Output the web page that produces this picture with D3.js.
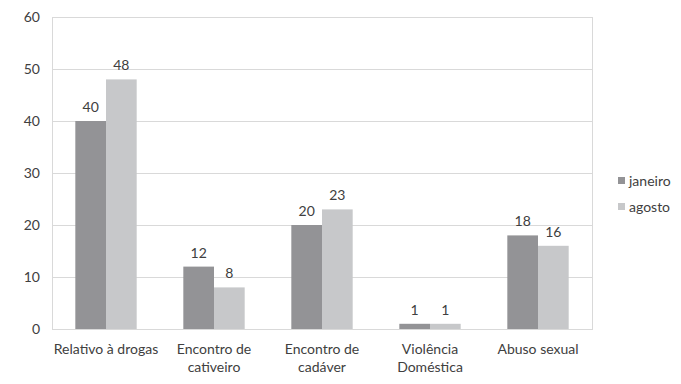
<!DOCTYPE html>
<html>
<head>
<meta charset="utf-8">
<script src="https://cdn.jsdelivr.net/npm/d3@7"></script>
<style>
  body { margin: 0; background: #fff; }
  text { font-family: Lato, "Open Sans", sans-serif; fill: #404040; }
</style>
</head>
<body>
<div id="chart"></div>
<script>
// data
var categories = [["Relativo à drogas"], ["Encontro de", "cativeiro"], ["Encontro de", "cadáver"], ["Violência", "Doméstica"], ["Abuso sexual"]];
var series = ["janeiro", "agosto"];
var janeiro = [40, 12, 20, 1, 18];
var agosto = [48, 8, 23, 1, 16];
var yTicks = [0, 10, 20, 30, 40, 50, 60];
var colors = ["#939396", "#c7c8ca"];

var w = 681, h = 384;
var plotLeft = 52, plotRight = 592, plotTop = 17, plotBottom = 329;
var fs = "14px";

var svg = d3.select("#chart").append("svg")
  .attr("width", w)
  .attr("height", h);

var x = d3.scaleBand()
  .domain(d3.range(categories.length))
  .range([plotLeft, plotRight]);

var xs = d3.scaleBand()
  .domain(series)
  .range([0, x.bandwidth()])
  .paddingOuter(0.76)
  .paddingInner(0);

var y = d3.scaleLinear()
  .domain([0, 60])
  .range([plotBottom, plotTop]);

// gridlines
svg.selectAll("line.grid")
  .data(yTicks)
  .enter()
  .append("line")
  .attr("x1", plotLeft)
  .attr("x2", plotRight)
  .attr("y1", function(d) { return Math.round(y(d)) + 0.5; })
  .attr("y2", function(d) { return Math.round(y(d)) + 0.5; })
  .style("stroke", "#d9d9d9")
  .style("stroke-width", 1);

// plot border (left and right)
[plotLeft, plotRight].forEach(function(px) {
  svg.append("line")
    .attr("x1", px + 0.5).attr("x2", px + 0.5)
    .attr("y1", plotTop).attr("y2", plotBottom + 1)
    .style("stroke", "#d9d9d9");
});

// y tick labels
svg.selectAll("text.ytick")
  .data(yTicks)
  .enter()
  .append("text")
  .text(function(d) { return d; })
  .attr("x", 40)
  .attr("y", function(d) { return y(d) + 5; })
  .style("text-anchor", "end")
  .style("font-size", fs);

var values = [janeiro, agosto];

series.forEach(function(s, si) {
  var g = svg.append("g");
  g.selectAll("rect")
    .data(values[si])
    .enter()
    .append("rect")
    .attr("x", function(d, i) { return x(i) + xs(s); })
    .attr("y", function(d) { return y(d); })
    .attr("width", xs.bandwidth())
    .attr("height", function(d) { return y(0) - y(d); })
    .style("fill", colors[si]);

  g.selectAll("text")
    .data(values[si])
    .enter()
    .append("text")
    .text(function(d) { return d; })
    .attr("x", function(d, i) { return x(i) + xs(s) + xs.bandwidth() / 2; })
    .attr("y", function(d) { return y(d) - 9; })
    .style("text-anchor", "middle")
    .style("font-size", fs);
});

// category labels
categories.forEach(function(lines, i) {
  var t = svg.append("text")
    .attr("x", x(i) + x.bandwidth() / 2)
    .attr("y", 354)
    .style("text-anchor", "middle")
    .style("font-size", fs);
  lines.forEach(function(l, li) {
    t.append("tspan")
      .attr("x", x(i) + x.bandwidth() / 2)
      .attr("dy", li === 0 ? 0 : 18)
      .text(l);
  });
});

// legend
series.forEach(function(s, si) {
  svg.append("rect")
    .attr("x", 618)
    .attr("y", 177 + si * 26)
    .attr("width", 7)
    .attr("height", 7)
    .style("fill", colors[si]);
  svg.append("text")
    .text(s)
    .attr("x", 629)
    .attr("y", 186 + si * 26)
    .style("font-size", fs);
});
</script>
</body>
</html>
